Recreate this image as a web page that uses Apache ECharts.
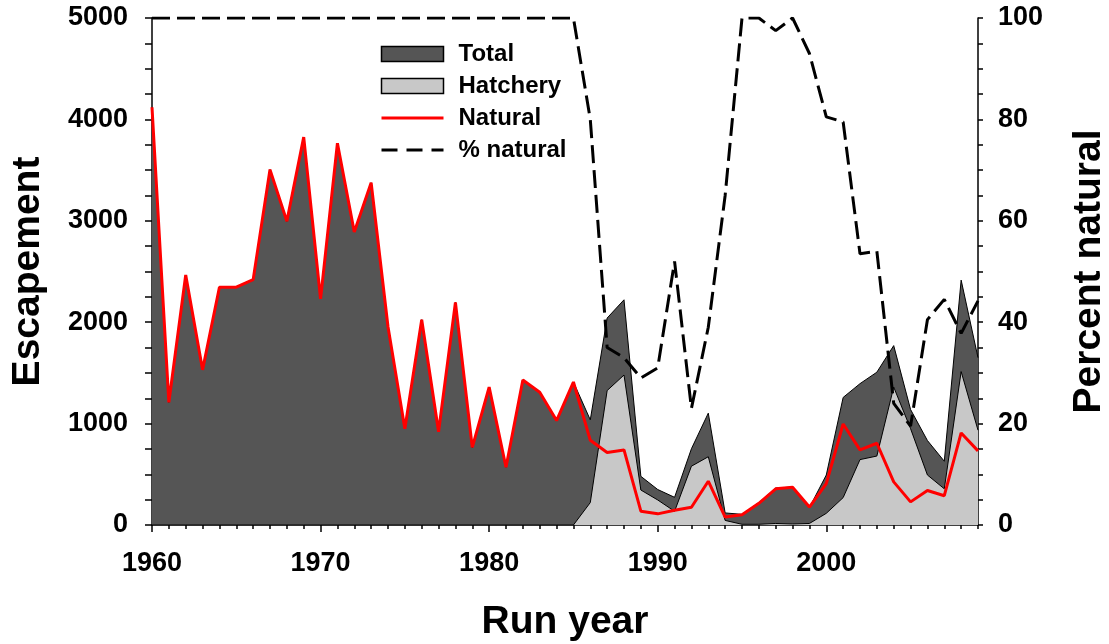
<!DOCTYPE html>
<html>
<head>
<meta charset="utf-8">
<script src="https://cdn.jsdelivr.net/npm/echarts@6/dist/echarts.min.js"></script>
<style>
  html, body { margin: 0; padding: 0; background: #fff; }
  #chart { width: 1109px; height: 644px; }
</style>
</head>
<body>
<div id="chart"></div>
<script>
  // run years
  var years = [];
  for (var y = 1960; y <= 2009; y++) years.push(y);

  // escapement values
  var total = [
    4120, 1210, 2465, 1530, 2345, 2345, 2420, 3505, 2995, 3825,
    2230, 3765, 2890, 3375, 1955, 950, 2025, 920, 2195, 765,
    1360, 570, 1430, 1310, 1030, 1410, 1037, 2041, 2221, 480,
    350, 273, 752, 1103, 119, 105, 221, 364, 374, 172,
    493, 1258, 1394, 1507, 1769, 1139, 833, 629, 2415, 1650
  ];
  var hatchery = [
    0, 0, 0, 0, 0, 0, 0, 0, 0, 0,
    0, 0, 0, 0, 0, 0, 0, 0, 0, 0,
    0, 0, 0, 0, 0, 0, 221, 1326, 1479, 345,
    247, 135, 580, 673, 45, 7, 7, 15, 10, 15,
    115, 270, 645, 680, 1360, 950, 493, 357, 1513, 935
  ];
  var natural = [
    4120, 1210, 2465, 1530, 2345, 2345, 2420, 3505, 2995, 3825,
    2230, 3765, 2890, 3375, 1955, 950, 2025, 920, 2195, 765,
    1360, 570, 1430, 1310, 1030, 1410, 835, 715, 740, 136,
    110, 145, 175, 432, 78, 102, 214, 357, 372, 177,
    408, 996, 741, 806, 425, 228, 340, 289, 908, 731
  ];
  var pctNatural = [
    100, 100, 100, 100, 100, 100, 100, 100, 100, 100,
    100, 100, 100, 100, 100, 100, 100, 100, 100, 100,
    100, 100, 100, 100, 100, 100, 80, 35, 33, 29,
    31, 52, 23, 39, 65, 100, 100, 97.5, 100, 93,
    80.5, 79.5, 53.5, 54, 24, 19.5, 40.5, 44.5, 37.8, 44.2
  ];
  var decadeTicks = [1960, 1970, 1980, 1990, 2000];

  function pairs(vals) {
    return years.map(function (yr, i) { return [yr, vals[i]]; });
  }

  var FONT = '"Liberation Sans", Arial, sans-serif';
  var labelStyle = { color: '#000', fontSize: 27, fontWeight: 'bold', fontFamily: FONT };
  var nameStyle = { color: '#000', fontSize: 39, fontWeight: 'bold', fontFamily: FONT };
  var blackLine = { color: '#000', width: 1.5 };
  var plain = function (v) { return String(v); };

  var chart = echarts.init(document.getElementById('chart'));
  var option = {
    animation: false,
    backgroundColor: '#fff',
    grid: { left: 152, right: 131, top: 18, bottom: 119, outerBoundsMode: 'none', containLabel: false },
    legend: {
      orient: 'vertical',
      left: 380,
      top: 42,
      padding: 0,
      itemWidth: 62,
      itemHeight: 15,
      itemGap: 8,
      textStyle: { color: '#000', fontSize: 24, fontWeight: 'bold', fontFamily: FONT, padding: [0, 0, 0, 10] },
      data: [
        { name: 'Total', icon: 'rect', itemStyle: { color: '#555555', borderColor: '#000', borderWidth: 1.5 } },
        { name: 'Hatchery', icon: 'rect', itemStyle: { color: '#c8c8c8', borderColor: '#000', borderWidth: 1.5 } },
        { name: 'Natural', itemStyle: { opacity: 0 }, lineStyle: { width: 3 } },
        { name: '% natural', itemStyle: { opacity: 0 }, lineStyle: { width: 3, type: [16, 9] } }
      ]
    },
    xAxis: [
      {
        type: 'value', min: 1960, max: 2009, interval: 1, position: 'bottom',
        axisLine: { lineStyle: blackLine },
        axisTick: { length: 4, lineStyle: blackLine },
        axisLabel: Object.assign({
          margin: 25,
          formatter: function (v) { return v % 10 === 0 ? String(v) : ''; }
        }, labelStyle),
        splitLine: { show: false },
        name: 'Run year', nameLocation: 'middle', nameGap: 78,
        nameTextStyle: nameStyle
      },
      {
        type: 'value', min: 1960, max: 2009, interval: 10, position: 'bottom',
        axisLine: { show: false },
        axisTick: { length: 7, lineStyle: blackLine, customValues: decadeTicks },
        axisLabel: { show: false },
        splitLine: { show: false }
      }
    ],
    yAxis: [
      {
        type: 'value', min: 0, max: 5000, interval: 1000, position: 'left',
        axisLine: { show: true, lineStyle: blackLine },
        axisTick: { show: true, length: 7, lineStyle: blackLine },
        minorTick: { show: true, splitNumber: 4, length: 7, lineStyle: blackLine },
        axisLabel: Object.assign({ margin: 24, formatter: plain }, labelStyle),
        splitLine: { show: false },
        name: 'Escapement', nameLocation: 'middle', nameGap: 104, nameRotate: 90,
        nameTextStyle: nameStyle
      },
      {
        type: 'value', min: 0, max: 100, interval: 20, position: 'right',
        axisLine: { show: true, lineStyle: blackLine },
        axisTick: { show: true, length: 5, lineStyle: blackLine },
        minorTick: { show: true, splitNumber: 4, length: 5, lineStyle: blackLine },
        axisLabel: Object.assign({ margin: 20, formatter: plain }, labelStyle),
        splitLine: { show: false },
        name: 'Percent natural', nameLocation: 'middle', nameGap: 92, nameRotate: 90,
        nameTextStyle: nameStyle
      }
    ],
    series: [
      {
        name: 'Total', type: 'line', data: pairs(total),
        symbol: 'none', z: 1,
        itemStyle: { color: '#555555' },
        lineStyle: { color: '#000', width: 1 },
        areaStyle: { color: '#555555', opacity: 1 }
      },
      {
        name: 'Hatchery', type: 'line', data: pairs(hatchery),
        symbol: 'none', z: 2,
        itemStyle: { color: '#c8c8c8' },
        lineStyle: { color: '#000', width: 1 },
        areaStyle: { color: '#c8c8c8', opacity: 1 }
      },
      {
        name: 'Natural', type: 'line', data: pairs(natural),
        symbol: 'none', z: 3,
        itemStyle: { color: '#ff0000' },
        lineStyle: { color: '#ff0000', width: 3 }
      },
      {
        name: '% natural', type: 'line', data: pairs(pctNatural), yAxisIndex: 1,
        symbol: 'none', z: 4,
        itemStyle: { color: '#000' },
        lineStyle: { color: '#000', width: 3, type: [18, 7] }
      }
    ]
  };
  chart.setOption(option);
</script>
</body>
</html>
